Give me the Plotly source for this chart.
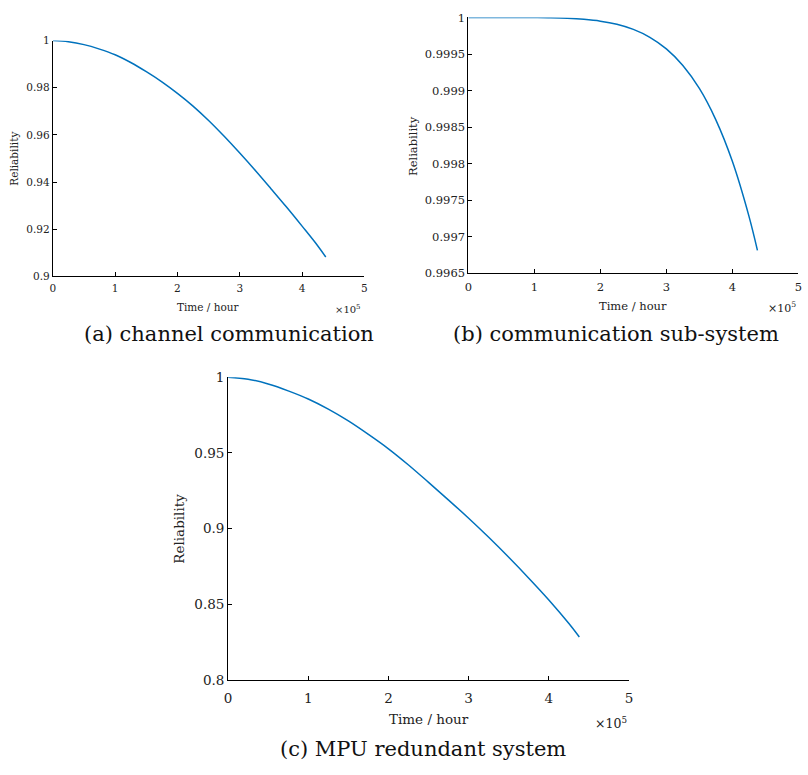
import plotly.graph_objects as go

W, H = 808, 775

# ---- data (time in hours) ----
t_hours = [0, 25000, 50000, 75000, 100000, 125000, 150000, 175000, 200000, 225000,
           250000, 275000, 300000, 325000, 350000, 375000, 400000, 425000, 438000]

r_channel = [1.0, 0.9995, 0.9983, 0.9964, 0.9940, 0.9907, 0.9868, 0.9825, 0.9776, 0.9722,
             0.9661, 0.9594, 0.9523, 0.9449, 0.9372, 0.9294, 0.9213, 0.9130, 0.9082]

r_subsystem = [1.0, 1.0, 1.0, 0.9999997, 0.9999987, 0.999996, 0.999989, 0.999975, 0.99995,
               0.999907, 0.999837, 0.999729, 0.999571, 0.999344, 0.999029, 0.998599,
               0.998031, 0.997284, 0.996812]

r_mpu = [1.0, 0.9987, 0.9955, 0.9910, 0.9856, 0.9789, 0.9711, 0.9622, 0.9527, 0.9420,
         0.9305, 0.9188, 0.9068, 0.8942, 0.8810, 0.8672, 0.8528, 0.8372, 0.8283]

x_tickvals = [0, 100000, 200000, 300000, 400000, 500000]
x_ticktext = ["0", "1", "2", "3", "4", "5"]

ya_vals = [0.9, 0.92, 0.94, 0.96, 0.98, 1.0]
ya_text = ["0.9", "0.92", "0.94", "0.96", "0.98", "1"]
yb_vals = [0.9965, 0.997, 0.9975, 0.998, 0.9985, 0.999, 0.9995, 1.0]
yb_text = ["0.9965", "0.997", "0.9975", "0.998", "0.9985", "0.999", "0.9995", "1"]
yc_vals = [0.8, 0.85, 0.9, 0.95, 1.0]
yc_text = ["0.8", "0.85", "0.9", "0.95", "1"]

captions = ["(a) channel communication", "(b) communication sub-system", "(c) MPU redundant system"]

LINE = "#0072BD"
FONT = "DejaVu Serif"


def px(xp):
    return xp / W


def py(yp):
    return 1 - yp / H


fig = go.Figure()
fig.add_trace(go.Scatter(x=t_hours, y=r_channel, mode="lines", line=dict(color=LINE, width=1.5, shape="spline"),
                         xaxis="x", yaxis="y", showlegend=False))
fig.add_trace(go.Scatter(x=t_hours, y=r_subsystem, mode="lines", line=dict(color=LINE, width=1.5, shape="spline"),
                         xaxis="x2", yaxis="y2", showlegend=False))
fig.add_trace(go.Scatter(x=t_hours, y=r_mpu, mode="lines", line=dict(color=LINE, width=1.5, shape="spline"),
                         xaxis="x3", yaxis="y3", showlegend=False))


def xax(dom, anchor, fs, standoff):
    return dict(domain=dom, anchor=anchor, range=[0, 500000], tickvals=x_tickvals, ticktext=x_ticktext,
                showline=True, linecolor="black", linewidth=1, ticks="inside", ticklen=4,
                tickcolor="black", showgrid=False, zeroline=False, mirror=False,
                ticklabelstandoff=standoff,
                tickfont=dict(family=FONT, size=fs, color="#222"))


def yax(dom, anchor, rng, vals, text, fs):
    return dict(domain=dom, anchor=anchor, range=rng, tickvals=vals, ticktext=text,
                showline=True, linecolor="black", linewidth=1, ticks="inside", ticklen=4,
                tickcolor="black", showgrid=False, zeroline=False, mirror=False,
                tickfont=dict(family=FONT, size=fs, color="#222"))


# panel pixel boxes
A = (49.3, 364.0, 33.3, 274.0)
B = (469.0, 802.3, 9.7, 270.7)
C = (226.3, 631.3, 377.0, 686.0)

fig.update_layout(
    width=W, height=H, margin=dict(l=0, r=0, t=0, b=0),
    paper_bgcolor="white", plot_bgcolor="white",
    font=dict(family=FONT),
    xaxis=xax([px(A[0]), px(A[1])], "y", 10.5, 2),
    yaxis=yax([py(A[3]), py(A[2])], "x", [0.9, 1.0], ya_vals, ya_text, 10.5),
    xaxis2=xax([px(B[0]), px(B[1])], "y2", 11.5, 3),
    yaxis2=yax([py(B[3]), py(B[2])], "x2", [0.9965, 1.0], yb_vals, yb_text, 11.5),
    xaxis3=xax([px(C[0]), px(C[1])], "y3", 13.5, 6),
    yaxis3=yax([py(C[3]), py(C[2])], "x3", [0.8, 1.0], yc_vals, yc_text, 13.5),
)

ann = []


def add_text(text, x, y, size, angle=0, xanchor="center", yanchor="middle", color="#222"):
    ann.append(dict(text=text, x=px(x), y=py(y), xref="paper", yref="paper", showarrow=False,
                    textangle=angle, xanchor=xanchor, yanchor=yanchor,
                    font=dict(family=FONT, size=size, color=color)))


# axis titles
add_text("Time / hour", 206.7, 305, 10.5)
add_text("Reliability", 10, 154, 10.5, angle=-90)
add_text("Time / hour", 635, 304, 11.5)
add_text("Reliability", 413, 141, 11.5, angle=-90)
add_text("Time / hour", 428.8, 725.7, 13.5)
add_text("Reliability", 176.7, 531.7, 13.5, angle=-90)

# exponent labels
add_text("×10<sup>5</sup>", 363, 307, 10, xanchor="right")
add_text("×10<sup>5</sup>", 802, 306, 11, xanchor="right")
add_text("×10<sup>5</sup>", 631, 730, 12.5, xanchor="right")

# captions
add_text(captions[0], 227.5, 333, 21, color="#111")
add_text(captions[1], 618, 333, 21, color="#111")
add_text(captions[2], 423, 757, 21, color="#111")

fig.update_layout(annotations=ann)
fig.write_html("out.html")
